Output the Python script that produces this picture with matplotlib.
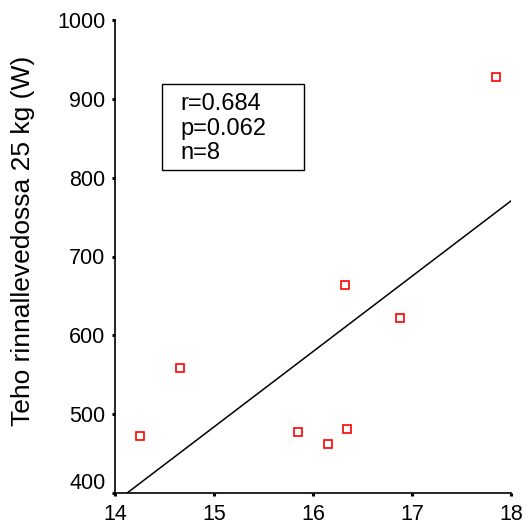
import numpy as np
import matplotlib
matplotlib.use("Agg")
from matplotlib import pyplot as plt
from matplotlib.patches import Rectangle
from matplotlib.transforms import ScaledTranslation

# rasvaton massa / teho-mittaukset (8 koehenkilöä)
massa = [14.25, 14.66, 15.85, 16.15, 16.34, 16.32, 16.88, 17.85]
teho = [472, 558, 477, 462, 481, 664, 622, 928]
x_ticks = [14, 15, 16, 17, 18]
y_ticks = [400, 500, 600, 700, 800, 900, 1000]
tilasto = ["r=0.684", "p=0.062", "n=8"]

plt.rcParams["font.family"] = ["Liberation Sans", "DejaVu Sans"]

W, H = 528, 524
fig = plt.figure(figsize=(W / 100, H / 100), dpi=100)
ax = fig.add_axes([115 / W, 1 - 493 / H, 396 / W, 473 / H])

# regressiosuora
k, b = np.polyfit(massa, teho, 1)
xs = np.array([13.5, 18.05])
ax.plot(xs, k * xs + b, color="black", linewidth=1.1)

ax.plot(massa, teho, linestyle="none", marker="s", markersize=6,
        markerfacecolor="white", markeredgecolor="red", markeredgewidth=1.2)

ax.set_xlim(14, 18)
ax.set_ylim(400, 1000)
ax.set_xticks(x_ticks)
ax.set_yticks(y_ticks)
ax.tick_params(direction="out", length=2, width=2.2, labelsize=15.5)
ax.tick_params(axis="y", pad=5)
ax.tick_params(axis="x", pad=6)

# alin y-arvo hieman ylemmäs, ettei osu x-akselin lukuihin
lbl = ax.get_yticklabels()[0]
lbl.set_transform(lbl.get_transform() + ScaledTranslation(0, 12 / 100, fig.dpi_scale_trans))

for s in ["top", "right"]:
    ax.spines[s].set_visible(False)
for s in ["left", "bottom"]:
    ax.spines[s].set_linewidth(1.2)

ax.set_ylabel("Teho rinnallevedossa 25 kg (W)", fontsize=19)
ax.yaxis.set_label_coords((35 - 115) / 396, (493 - 241) / 473)

# tilastolaatikko
ax.add_patch(Rectangle(((162 - 115) / 396, (493 - 170) / 473), 142 / 396, 86 / 473,
                       transform=ax.transAxes, facecolor="white",
                       edgecolor="black", linewidth=1, zorder=3))
for i, rivi in enumerate(tilasto):
    ax.text((180 - 115) / 396, (493 - 110 - 24.5 * i) / 473, rivi,
            transform=ax.transAxes, fontsize=17, va="baseline", ha="left", zorder=4)

fig.savefig("out.png", dpi=100)
